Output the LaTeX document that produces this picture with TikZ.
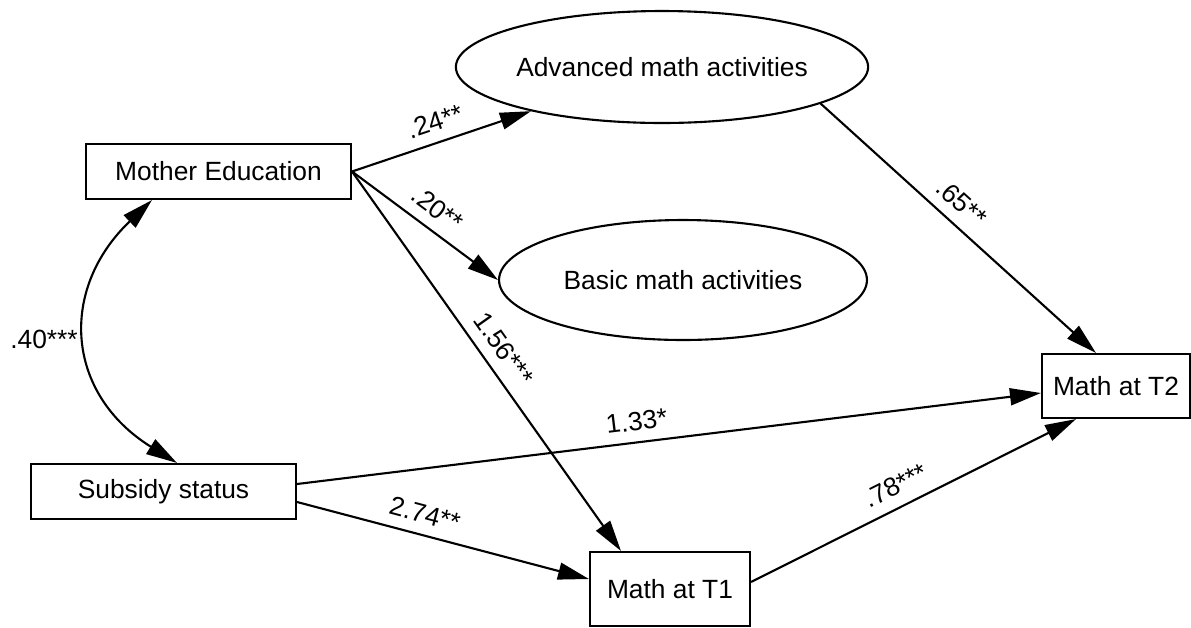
\documentclass[tikz,border=0pt]{standalone}
\usepackage{fontspec}
\setmainfont{Liberation Sans}
\usetikzlibrary{arrows.meta}
\usetikzlibrary{shapes.geometric}

\begin{document}
\begin{tikzpicture}[x=0.02cm, y=-0.02cm,
    every node/.style={font=\fontsize{15}{18}\selectfont},
    >={Triangle[length=0.62cm, width=0.34cm]},
    obs/.style={draw, line width=1.2pt, rectangle, inner sep=0pt},
    lat/.style={draw, line width=1.2pt, ellipse, inner sep=0pt},
    eff/.style={line width=1.2pt, ->},
    coef/.style={sloped, above=0.1cm}]
    \useasboundingbox (0,0) rectangle (1191,627);

    \node[obs, minimum width=5.3cm, minimum height=1.1cm] (me) at (218.5,171.5) {Mother Education};
    \node[obs, minimum width=5.3cm, minimum height=1.1cm] (sub) at (163.5,491.5) {Subsidy status};
    \node[lat, minimum width=7.72cm, minimum height=2.24cm] (adv) at (662,67) {Advanced math activities};
    \node[lat, minimum width=7.36cm, minimum height=2.4cm] (bas) at (683,280) {Basic math activities};
    \node[obs, minimum width=3.2cm, minimum height=1.48cm] (t1) at (670,589) {Math at T1};
    \node[obs, minimum width=2.96cm, minimum height=1.28cm] (t2) at (1116,386) {Math at T2};

    \draw[eff] (me.east) -- (adv) node[coef, pos=0.5] {.24**};
    \draw[eff] (me.east) -- (bas.west) node[coef, pos=0.5] {.20**};
    \draw[eff] (me.east) -- ([xshift=0.64cm]t1.north west) node[coef, pos=0.5] {1.56***};
    \draw[eff] (adv.-13) -- ([xshift=-0.4cm]t2.north) node[coef, pos=0.46] {.65**};
    \draw[eff] ([yshift=0.15cm]sub.east) -- ([yshift=-0.14cm]t2.west) node[coef, pos=0.46] {1.33*};
    \draw[eff] ([yshift=-0.21cm]sub.east) -- ([yshift=0.2cm]t1.west) node[coef, pos=0.42] {2.74**};
    \draw[eff] ([yshift=0.14cm]t1.east) -- ([xshift=-0.8cm]t2.south) node[coef, pos=0.475] {.78***};
    \draw[eff, <->] ([xshift=1.34cm]me.south west) .. controls (58,290) and (66,394) .. ([xshift=0.27cm]sub.north)
        node[pos=0.5, left=0.06cm] {.40***};
\end{tikzpicture}
\end{document}
